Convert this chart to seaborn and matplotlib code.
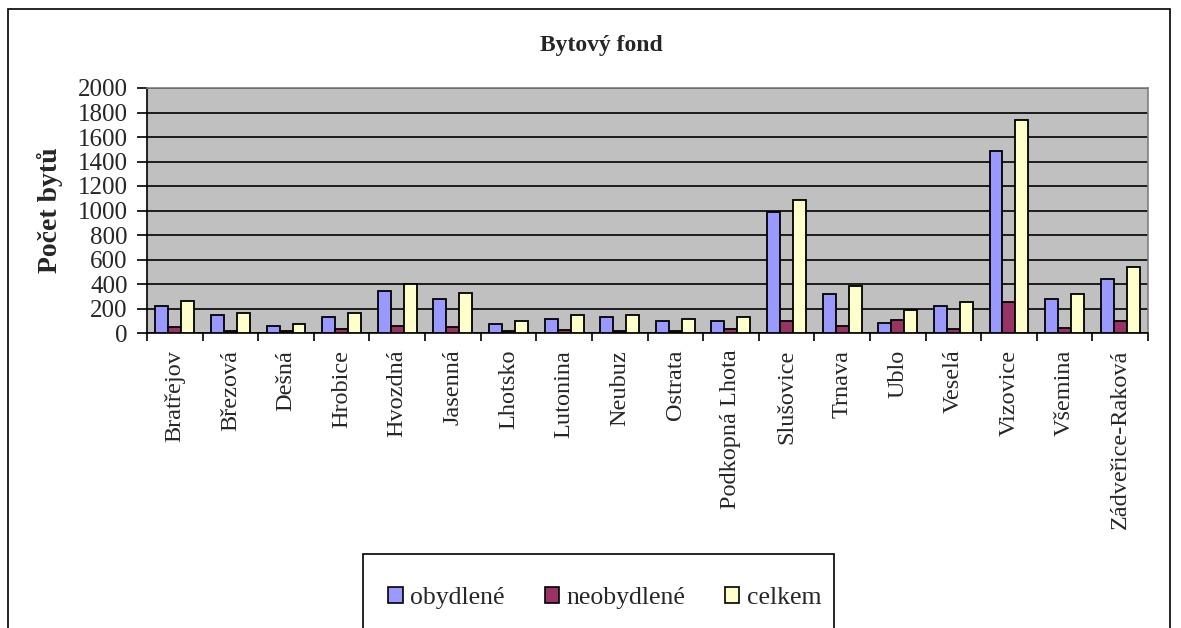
import matplotlib
matplotlib.use("Agg")
import matplotlib.pyplot as plt
import matplotlib.patches as mpatches
from matplotlib.ticker import FixedLocator
import seaborn as sns
import pandas as pd

categories = ["Bratřejov", "Březová", "Dešná", "Hrobice", "Hvozdná", "Jasenná",
              "Lhotsko", "Lutonina", "Neubuz", "Ostrata", "Podkopná Lhota",
              "Slušovice", "Trnava", "Ublo", "Veselá", "Vizovice", "Všemina",
              "Zádveřice-Raková"]
obydlene = [218, 145, 57, 130, 340, 278, 75, 115, 130, 100, 100, 985, 320, 85, 220, 1485, 280, 440]
neobydlene = [52, 15, 15, 30, 57, 45, 20, 25, 15, 15, 30, 100, 60, 105, 30, 250, 40, 100]
celkem = [265, 160, 72, 160, 397, 325, 100, 145, 145, 115, 130, 1085, 380, 190, 250, 1735, 322, 540]
series = ["obydlené", "neobydlené", "celkem"]
colors = ["#9999FF", "#993366", "#FFFFCC"]
yticks = list(range(0, 2001, 200))

df = pd.DataFrame({
    "obec": categories * 3,
    "hodnota": obydlene + neobydlene + celkem,
    "typ": [series[0]] * len(categories) + [series[1]] * len(categories) + [series[2]] * len(categories),
})

sns.set_theme(style="white")
plt.rcParams["font.family"] = ["Liberation Serif", "DejaVu Serif"]

W, H = 1181, 628
fig = plt.figure(figsize=(W / 100, H / 100), dpi=100)
ax = fig.add_axes([147 / W, 1 - 333 / H, (1148 - 147) / W, (333 - 88) / H])
ax.set_facecolor("#C0C0C0")

sns.barplot(data=df, x="obec", y="hodnota", hue="typ", hue_order=series,
            palette=colors, width=0.7, gap=0, edgecolor="black", linewidth=1.3,
            saturation=1, ax=ax, legend=False, zorder=3)

ax.set_ylim(0, 2000)
ax.set_xlim(-0.5, len(categories) - 0.5)
ax.set_yticks(yticks)
ax.set_yticklabels([str(v) for v in yticks], fontsize=18)
ax.yaxis.grid(True, color="black", linewidth=1.2, zorder=0)
ax.set_axisbelow(True)
ax.tick_params(axis="y", which="major", direction="out", length=7, width=1.2, color="black", pad=7, left=True)

ax.set_xticks(range(len(categories)))
ax.set_xticklabels(categories, rotation=90, fontsize=17.5)
ax.tick_params(axis="x", which="major", length=0, pad=12)
ax.xaxis.set_minor_locator(FixedLocator([i - 0.5 for i in range(len(categories) + 1)]))
ax.tick_params(axis="x", which="minor", direction="out", length=6, width=1.2, color="black", bottom=True)

for side in ["top", "right"]:
    ax.spines[side].set_color("#808080")
    ax.spines[side].set_linewidth(1.2)
for side in ["left", "bottom"]:
    ax.spines[side].set_color("black")
    ax.spines[side].set_linewidth(1.2)

ax.set_xlabel("")
ax.set_ylabel("")
fig.text(50 / W, 1 - 210 / H, "Počet bytů", rotation=90, ha="center", va="center",
         fontsize=20, fontweight="bold")
fig.text(601 / W, 1 - 45 / H, "Bytový fond", ha="center", va="center",
         fontsize=17, fontweight="bold")

# outer chart frame
fig.patches.append(mpatches.Rectangle((8 / W, -0.05), (1170 - 8) / W, 1 - 9 / H + 0.05,
                                      transform=fig.transFigure, fill=False,
                                      edgecolor="black", linewidth=1.2))
# legend frame
fig.patches.append(mpatches.Rectangle((363 / W, -0.05), (834 - 363) / W, 1 - 554 / H + 0.05,
                                      transform=fig.transFigure, fill=False,
                                      edgecolor="black", linewidth=1.2))

handles = [mpatches.Patch(facecolor=c, edgecolor="black", linewidth=1.2, label=s)
           for c, s in zip(colors, series)]
leg = fig.legend(handles=handles, loc="center", bbox_to_anchor=(605 / W, 1 - 598 / H),
                 ncol=3, fontsize=18.5, frameon=False,
                 handlelength=0.55, handleheight=0.55, handletextpad=0.3,
                 columnspacing=1.55, borderpad=0)

fig.savefig("out.png", dpi=100)
